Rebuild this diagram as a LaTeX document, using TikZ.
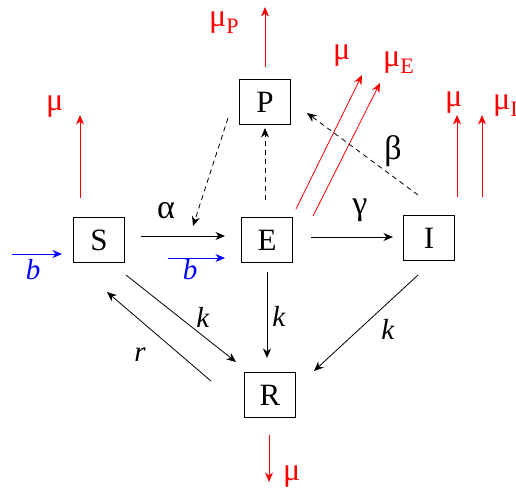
\documentclass[tikz,border=0pt]{standalone}
\usepackage{fontspec}
\setmainfont{Liberation Serif}
\usetikzlibrary{arrows.meta}
\begin{document}
\begin{tikzpicture}[x=1pt,y=-1pt,
  box/.style={draw,line width=0.9pt,minimum width=51pt,minimum height=45pt,inner sep=0pt,font=\fontsize{31}{33}\selectfont},
  arr/.style={line width=0.8pt,-{Stealth[length=9.5pt,width=8pt,inset=3pt]}},
  loss/.style={arr,red},
  birth/.style={arr,blue},
  dsh/.style={arr,dash pattern=on 5pt off 4pt},
  lab/.style={font=\fontsize{29}{31}\selectfont,inner sep=0pt},
  grk/.style={font=\fontsize{34}{36}\selectfont,inner sep=0pt},
  redlab/.style={lab,red,anchor=base west,font=\fontsize{32}{34}\selectfont}]
\useasboundingbox (0,0) rectangle (516,491);
% boxes
\node[box] (P) at (265,102) {P};
\node[box] (S) at (99,240) {S};
\node[box] (E) at (267,240) {E};
\node[box] (I) at (429,238) {I};
\node[box] (R) at (270,395) {R};
% free ends
\coordinate (Pu) at (265,7);
\coordinate (Su) at (80,115);
\coordinate (Sb) at (12,254);
\coordinate (Eb) at (168,258);
\coordinate (Eu1) at (362,75);
\coordinate (Eu2) at (380,83);
\coordinate (Iu1) at (457,115);
\coordinate (Iu2) at (482,115);
\coordinate (Rd) at (269,482);
\coordinate (PSalpha) at (193,226);
% losses
\draw[loss] (265,67) -- (Pu);
\draw[loss] (80,198) -- (Su);
\draw[loss] (296,209) -- (Eu1);
\draw[loss] (313,216) -- (Eu2);
\draw[loss] (457,197) -- (Iu1);
\draw[loss] (482,197) -- (Iu2);
\draw[loss] (269,435) -- (Rd);
% births
\draw[birth] (Sb) -- (62,254);
\draw[birth] (Eb) -- (225,258);
% transitions
\draw[arr] (141,236) -- (225,236);
\draw[arr] (311,237) -- (393,237);
\draw[arr] (267,272) -- (267,358);
\draw[arr] (126,275) -- (236,362);
\draw[arr] (211,381) -- (107,292);
\draw[arr] (418,275) -- (314,371);
% dashed
\draw[dsh] (228,118) -- (PSalpha);
\draw[dsh] (265,200) -- (265,128);
\draw[dsh] (418,195) -- (307,113);
% labels
\node[grk] at (166,211) {α};
\node[grk] at (360,210) {γ};
\node[grk] at (393,151) {β};
\node[lab,blue] at (33,270) {\textit{b}};
\node[lab,blue] at (190,270) {\textit{b}};
\node[lab] at (203,317) {\textit{k}};
\node[lab] at (279,316) {\textit{k}};
\node[lab] at (388,329) {\textit{k}};
\node[lab] at (140,355) {\textit{r}};
\node[redlab] at (209,26) {μ\raisebox{-7pt}{\fontsize{22}{24}\selectfont P}};
\node[redlab] at (46,110) {μ};
\node[redlab] at (333,59) {μ};
\node[redlab] at (383,66) {μ\raisebox{-7pt}{\fontsize{22}{24}\selectfont E}};
\node[redlab] at (445,106) {μ};
\node[redlab] at (493,109) {μ\raisebox{-7pt}{\fontsize{22}{24}\selectfont I}};
\node[redlab] at (283,480) {μ};
\end{tikzpicture}
\end{document}
